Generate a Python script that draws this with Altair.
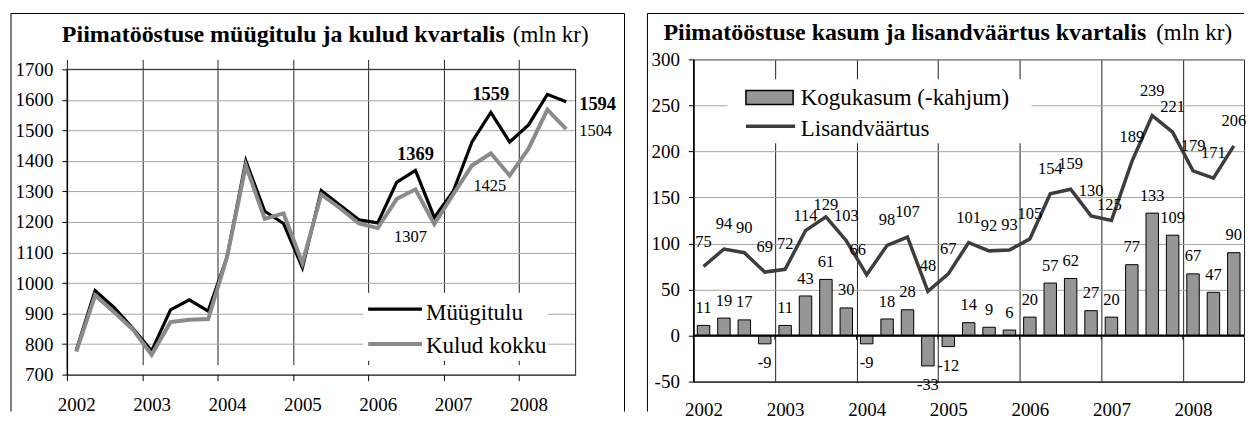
import altair as alt
import pandas as pd

# ---------------- data ----------------
years = ["2002", "2003", "2004", "2005", "2006", "2007", "2008"]
n_quarters = 27  # 2002 Q1 ... 2008 Q3

myygitulu = [780, 975, 920, 852, 778, 912, 945, 908, 1085, 1400, 1235, 1195, 1050,
             1303, 1255, 1207, 1197, 1330, 1369, 1215, 1300, 1462, 1559, 1462, 1518, 1618, 1594]
kulud = [775, 960, 905, 848, 765, 872, 880, 882, 1085, 1385, 1210, 1228, 1065,
         1290, 1245, 1195, 1180, 1275, 1307, 1193, 1290, 1385, 1425, 1352, 1440, 1568, 1504]

lisandvaartus = [75, 94, 90, 69, 72, 114, 129, 103, 66, 98, 107, 48, 67, 101, 92, 93,
                 105, 154, 159, 130, 125, 189, 239, 221, 179, 171, 206]
kogukasum = [11, 19, 17, -9, 11, 43, 61, 30, -9, 18, 28, -33, -12, 14, 9, 6,
             20, 57, 62, 27, 20, 77, 133, 109, 67, 47, 90]

title1_bold = "Piimatööstuse müügitulu ja kulud kvartalis"
title2_bold = "Piimatööstuse kasum ja lisandväärtus kvartalis"
title_unit = "(mln kr)"
series1 = ["Müügitulu", "Kulud kokku"]
series2 = ["Kogukasum (-kahjum)", "Lisandväärtus"]

# ---------------- style ----------------
FONT = "Liberation Serif"
W1, H1, TOP1 = 510, 316, 10   # left plot: drawn from y=TOP1 to y=H1
W2, H2 = 552, 323
GRAY_LINE = "#8a8a8a"
BAR_FILL = "#969696"
DARK_LINE = "#3d3d3d"
BORDER = "#222222"

idx = list(range(n_quarters))
d1 = pd.DataFrame({"i": idx, "q": [i + 0.5 for i in idx], "mt": myygitulu, "kk": kulud})
d2 = pd.DataFrame({"i": idx, "q": [i + 0.5 for i in idx], "lis": lisandvaartus,
                   "kasum": kogukasum,
                   "b0": [i + 0.195 for i in idx], "b1": [i + 0.805 for i in idx]})
d_bound = pd.DataFrame({"b": [4 * k for k in range(len(years))]})
dummy = alt.Data(values=[{"k": 0}])

grid_test = "datum.value % 4 == 0"
xvals = sorted([4 * k for k in range(len(years))] + [4 * k + 0.5 for k in range(len(years))])
years_js = "[" + ",".join(f"'{y}'" for y in years) + "]"
lab_expr = f"datum.value % 4 == 0.5 ? {years_js}[floor(datum.value / 4)] : ''"


def xaxis(ticks, tick_size, pad):
    return alt.Axis(values=xvals, labelExpr=lab_expr, title=None, grid=True,
                    gridColor=BORDER, gridWidth=1,
                    gridOpacity={"condition": {"test": grid_test, "value": 1}, "value": 0},
                    ticks=ticks, tickSize=tick_size, tickColor="black", tickWidth=1,
                    tickOpacity={"condition": {"test": grid_test, "value": 1}, "value": 0},
                    domainColor="black", domainWidth=1,
                    labelFont=FONT, labelFontSize=19, labelColor="black",
                    labelPadding=pad, labelOverlap=False, labelFlush=False,
                    labelAlign="center", labelBaseline="top")


def yaxis(vals):
    return alt.Axis(values=vals, labelExpr="'' + datum.value", title=None, grid=True,
                    gridColor="#a6a6a6", gridWidth=1,
                    ticks=True, tickSize=5, tickColor="black", domainColor="black",
                    domainWidth=1.5, labelFont=FONT, labelFontSize=19, labelColor="black",
                    labelPadding=9)


# ---------------- left panel ----------------
xs1 = alt.Scale(domain=[0, n_quarters], nice=False, zero=False)
ys1 = alt.Scale(domain=[700, 1700], nice=False, zero=False, range=[H1, TOP1])
xa1 = xaxis(True, 6, 15)
ya1 = yaxis(list(range(700, 1701, 100)))


def X1(f):
    return alt.X(f"{f}:Q", scale=xs1, axis=xa1)


def Y1(f):
    return alt.Y(f"{f}:Q", scale=ys1, axis=ya1)


base1 = alt.Chart(d1)
layers1 = [
    base1.mark_line(color="black", strokeWidth=3.2).encode(x=X1("q"), y=Y1("mt")),
    base1.mark_line(color=GRAY_LINE, strokeWidth=4).encode(x=X1("q"), y=Y1("kk")),
]
# annotations: (field, index, dx, dy, bold, align)
ann1 = [("mt", 18, 0, -16, True, "center"), ("mt", 22, 0, -18, True, "center"),
        ("mt", 26, 13, 2.5, True, "left"), ("kk", 18, -5, 48, False, "center"),
        ("kk", 22, -1, 33, False, "center"), ("kk", 26, 13, 2, False, "left")]
for f, i, dx, dy, bold, al in ann1:
    layers1.append(
        base1.transform_filter(f"datum.i == {i}").mark_text(
            font=FONT, fontSize=18.5 if bold else 16.5, fontWeight="bold" if bold else "normal",
            color="black", align=al, baseline="middle", dx=dx, dy=dy
        ).encode(x=X1("q"), y=Y1(f), text=alt.Text(f"{f}:Q", format="d"))
    )
leg1 = alt.Chart(dummy)
layers1 += [
    # plot border (top and right)
    leg1.mark_rule(color=BORDER, strokeWidth=1).encode(x=alt.value(0), x2=alt.value(W1),
                                                       y=alt.value(TOP1)),
    leg1.mark_rule(color=BORDER, strokeWidth=1).encode(x=alt.value(W1), y=alt.value(TOP1),
                                                       y2=alt.value(H1)),
    # legend
    leg1.mark_rect(color="white").encode(x=alt.value(297), x2=alt.value(482),
                                         y=alt.value(234), y2=alt.value(302)),
    leg1.mark_rule(color="black", strokeWidth=3.2).encode(x=alt.value(302), x2=alt.value(356),
                                                          y=alt.value(250.3)),
    leg1.mark_rule(color=GRAY_LINE, strokeWidth=4).encode(x=alt.value(302), x2=alt.value(356),
                                                          y=alt.value(285.3)),
    leg1.mark_text(text=series1[0], font=FONT, fontSize=23, align="left", baseline="alphabetic",
                   color="black").encode(x=alt.value(360), y=alt.value(261.3)),
    leg1.mark_text(text=series1[1], font=FONT, fontSize=23, align="left", baseline="alphabetic",
                   color="black").encode(x=alt.value(360), y=alt.value(294.7)),
    # title
    leg1.mark_text(text=title1_bold, font=FONT, fontSize=24, fontWeight="bold", align="right",
                   baseline="alphabetic", color="black").encode(x=alt.value(439), y=alt.value(-17.3)),
    leg1.mark_text(text=title_unit, font=FONT, fontSize=23, align="left",
                   baseline="alphabetic", color="black").encode(x=alt.value(447), y=alt.value(-17.3)),
    # outer frame
    leg1.mark_rule(color="black", strokeWidth=1).encode(x=alt.value(-56), y=alt.value(-46),
                                                        y2=alt.value(353)),
    leg1.mark_rule(color="black", strokeWidth=1).encode(x=alt.value(559), y=alt.value(-46),
                                                        y2=alt.value(353)),
    leg1.mark_rule(color="black", strokeWidth=1).encode(x=alt.value(-56), x2=alt.value(559),
                                                        y=alt.value(-46)),
]
left = alt.layer(*layers1).properties(width=W1, height=H1,
                                       view=alt.ViewBackground(strokeOpacity=0))

# ---------------- right panel ----------------
xs2 = alt.Scale(domain=[0, n_quarters], nice=False, zero=False)
ys2 = alt.Scale(domain=[-50, 300], nice=False, zero=False)
xa2 = xaxis(False, 0, 19)
ya2 = yaxis(list(range(-50, 301, 50)))


def X2(f):
    return alt.X(f"{f}:Q", scale=xs2, axis=xa2)


def Y2(f):
    return alt.Y(f"{f}:Q", scale=ys2, axis=ya2)


base2 = alt.Chart(d2).transform_calculate(kl="'' + datum.kasum", ll="'' + datum.lis")
layers2 = [
    base2.mark_bar(color=BAR_FILL, stroke="black", strokeWidth=1).encode(
        x=X2("b0"), x2="b1:Q", y=Y2("kasum"), y2=alt.datum(0)),
    alt.Chart(dummy).mark_rule(color="black", strokeWidth=2.2).encode(y=alt.datum(0)),
    alt.Chart(d_bound).mark_rule(color="black", strokeWidth=1).encode(
        x=X2("b"), y=alt.datum(0), y2=alt.datum(-4.5)),
    base2.mark_line(color=DARK_LINE, strokeWidth=3.5).encode(x=X2("q"), y=Y2("lis")),
    base2.transform_filter("datum.kasum >= 0").mark_text(
        font=FONT, fontSize=16.5, color="black", baseline="middle", dy=-17.5
    ).encode(x=X2("q"), y=Y2("kasum"), text="kl:N"),
    base2.transform_filter("datum.kasum < 0").mark_text(
        font=FONT, fontSize=16.5, color="black", baseline="middle", dy=19.5
    ).encode(x=X2("q"), y=Y2("kasum"), text="kl:N"),
]
nudge = {5: (0, -15), 6: (0, -12), 8: (-9, -25), 20: (-2, -16)}
groups = {}
for i in idx:
    groups.setdefault(nudge.get(i, (0, -25)), []).append(i)
for (dx, dy), members in groups.items():
    layers2.append(
        base2.transform_filter(alt.FieldOneOfPredicate(field="i", oneOf=members)).mark_text(
            font=FONT, fontSize=16.5, color="black", baseline="middle", dx=dx, dy=dy
        ).encode(x=X2("q"), y=Y2("lis"), text="ll:N")
    )
leg2 = alt.Chart(dummy)
layers2 += [
    leg2.mark_rect(color="white").encode(x=alt.value(34), x2=alt.value(339),
                                         y=alt.value(20), y2=alt.value(84)),
    leg2.mark_rect(color=BAR_FILL, stroke="black", strokeWidth=1.5).encode(
        x=alt.value(52.7), x2=alt.value(100), y=alt.value(31.3), y2=alt.value(45.3)),
    leg2.mark_rule(color=DARK_LINE, strokeWidth=3.5).encode(x=alt.value(52.7), x2=alt.value(102),
                                                            y=alt.value(67)),
    leg2.mark_text(text=series2[0], font=FONT, fontSize=23, align="left", baseline="alphabetic",
                   color="black").encode(x=alt.value(107.7), y=alt.value(45.3)),
    leg2.mark_text(text=series2[1], font=FONT, fontSize=23, align="left", baseline="alphabetic",
                   color="black").encode(x=alt.value(107.7), y=alt.value(77)),
    leg2.mark_text(text=title2_bold, font=FONT, fontSize=24, fontWeight="bold", align="right",
                   baseline="alphabetic", color="black").encode(x=alt.value(454), y=alt.value(-19.7)),
    leg2.mark_text(text=title_unit, font=FONT, fontSize=23, align="left",
                   baseline="alphabetic", color="black").encode(x=alt.value(464), y=alt.value(-19.7)),
    leg2.mark_rule(color="black", strokeWidth=1).encode(x=alt.value(-46), y=alt.value(-46),
                                                        y2=alt.value(353)),
    leg2.mark_rule(color="black", strokeWidth=1).encode(x=alt.value(-46), x2=alt.value(W2),
                                                        y=alt.value(-46)),
]
right = alt.layer(*layers2).properties(width=W2, height=H2)

chart = alt.hconcat(left, right, spacing=21).properties(
    padding={"left": 2, "top": 4, "right": 0, "bottom": 0},
    background="white",
).configure_view(stroke=BORDER, strokeWidth=1)

chart.save("out.html", embed_options={"renderer": "svg", "actions": False})
